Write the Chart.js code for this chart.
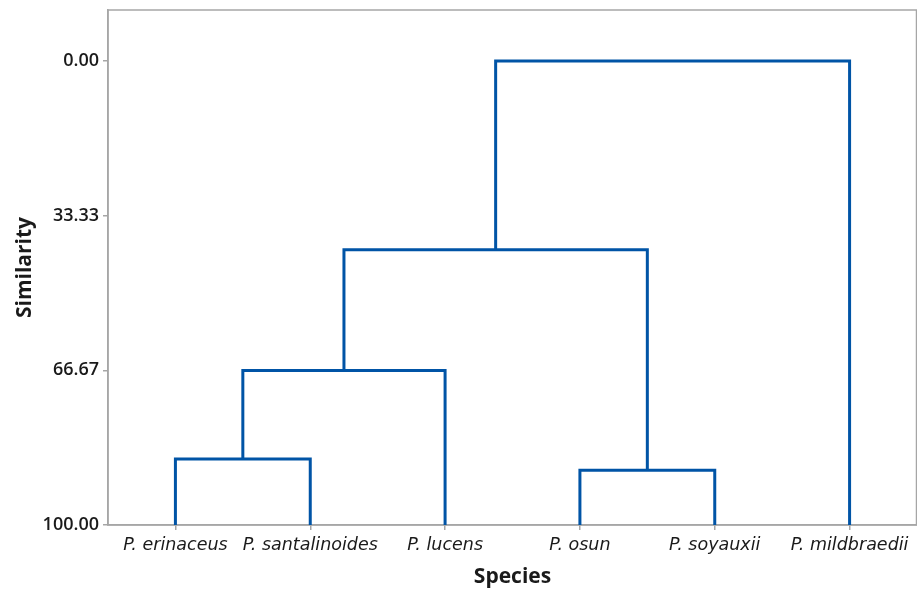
<!DOCTYPE html>
<html>
<head>
<meta charset="utf-8">
<script src="https://cdn.jsdelivr.net/npm/chart.js@4/dist/chart.umd.min.js"></script>
<style>
  html, body { margin: 0; padding: 0; background: #fff; }
  #wrap { width: 917px; height: 590px; }
</style>
</head>
<body>
<div id="wrap"><canvas id="c" width="917" height="590"></canvas></div>
<script>
// Leaves (in dendrogram order)
const species = ["P. erinaceus", "P. santalinoides", "P. lucens", "P. osun", "P. soyauxii", "P. mildbraedii"];
// Merges: cluster ids (0-5 leaves, 6+ merged clusters in order) and similarity level
const mergeLeft   = [0, 3, 6, 8, 9];
const mergeRight  = [1, 4, 2, 7, 5];
const mergeLevel  = [85.8, 88.2, 66.7, 40.7, 0.0];
const leafLevel = 100;
const yTickValues = [0, 33.33, 66.67, 100];

// Build cluster positions from the data
const clusterX = species.map((s, i) => i + 1);
const clusterY = species.map(() => leafLevel);
const datasets = [];
for (let k = 0; k < mergeLeft.length; k++) {
  const a = mergeLeft[k], b = mergeRight[k], h = mergeLevel[k];
  datasets.push({
    data: [
      { x: clusterX[a], y: clusterY[a] },
      { x: clusterX[a], y: h },
      { x: clusterX[b], y: h },
      { x: clusterX[b], y: clusterY[b] }
    ]
  });
  clusterX.push((clusterX[a] + clusterX[b]) / 2);
  clusterY.push(h);
}

const lineColor = "rgb(0, 84, 166)";
const frameColor = "#a6a6a6";

const framePlugin = {
  id: "frame",
  beforeDatasetsDraw(chart) {
    const { ctx, chartArea: a } = chart;
    ctx.save();
    ctx.strokeStyle = frameColor;
    ctx.lineWidth = 1.5;
    ctx.strokeRect(a.left, a.top, a.right - a.left - 0.5, a.bottom - a.top);
    ctx.restore();
  }
};

new Chart(document.getElementById("c"), {
  type: "scatter",
  data: {
    datasets: datasets.map(d => Object.assign(d, {
      showLine: true,
      borderColor: lineColor,
      backgroundColor: lineColor,
      borderWidth: 3,
      pointRadius: 0,
      pointHoverRadius: 0,
      tension: 0,
      borderJoinStyle: "miter",
      borderCapStyle: "butt"
    }))
  },
  plugins: [framePlugin],
  options: {
    responsive: false,
    animation: false,
    events: [],
    layout: { padding: { top: 10, right: 0, left: 0, bottom: 0 } },
    plugins: { legend: { display: false }, tooltip: { enabled: false } },
    scales: {
      x: {
        type: "linear",
        min: 0.5,
        max: 6.5,
        afterBuildTicks(axis) { axis.ticks = species.map((s, i) => ({ value: i + 1 })); },
        afterFit(scale) { scale.height = 65; scale.paddingLeft = 0; scale.paddingRight = 0; },
        ticks: {
          autoSkip: false,
          maxRotation: 0,
          padding: 5,
          color: "#1a1a1a",
          font: { family: "'DejaVu Sans', 'Open Sans', sans-serif", size: 17.5, style: "italic" },
          callback: (v) => species[Math.round(v) - 1] || ""
        },
        grid: { drawOnChartArea: false, drawTicks: true, tickLength: 5, color: frameColor, lineWidth: 1.5 },
        border: { display: true, color: frameColor, width: 1.5 },
        title: {
          display: true,
          text: "Species",
          color: "#1a1a1a",
          font: { family: "'Open Sans', 'Noto Sans', sans-serif", size: 21, weight: "bold" },
          padding: { top: 0, bottom: 0 }
        }
      },
      y: {
        type: "linear",
        reverse: true,
        min: -11,
        max: 100,
        afterBuildTicks(axis) { axis.ticks = yTickValues.map(v => ({ value: v })); },
        afterFit(scale) { scale.width = 108; scale.paddingTop = 0; scale.paddingBottom = 0; },
        ticks: {
          padding: 4,
          color: "#1a1a1a",
          font: { family: "'Open Sans', 'Noto Sans', sans-serif", size: 18, weight: "600" },
          callback: (v) => Number(v).toFixed(2)
        },
        grid: { drawOnChartArea: false, drawTicks: true, tickLength: 5, color: frameColor, lineWidth: 1.5 },
        border: { display: true, color: frameColor, width: 1.5 },
        title: {
          display: true,
          text: "Similarity",
          color: "#1a1a1a",
          font: { family: "'Open Sans', 'Noto Sans', sans-serif", size: 21, weight: "bold" },
          padding: { top: 12, bottom: 0 }
        }
      }
    }
  }
});
</script>
</body>
</html>
